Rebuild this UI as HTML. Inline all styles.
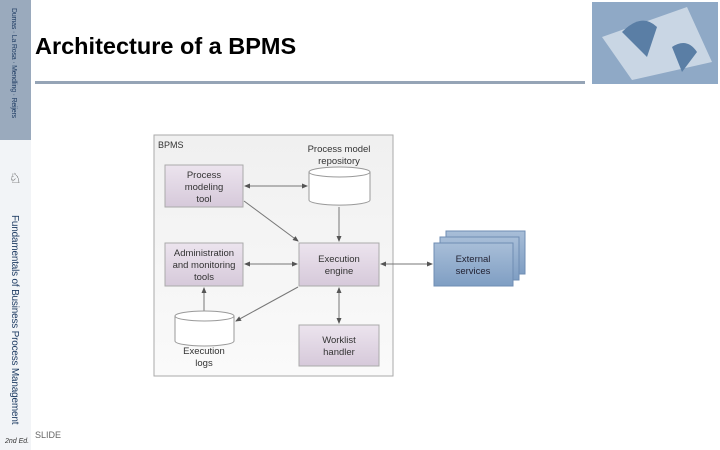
<!DOCTYPE html>
<html><head><meta charset="utf-8"><style>
body{margin:0;width:720px;height:450px;overflow:hidden;background:#fff;font-family:"Liberation Sans",sans-serif;position:relative}
.side{position:absolute;left:0;top:0;width:31px;height:450px;background:#f2f4f7}
.sidetop{position:absolute;left:0;top:0;width:31px;height:140px;background:#9aaabd}
.vt{position:absolute;writing-mode:vertical-rl;color:#1f3c63;white-space:nowrap}
h1{position:absolute;left:35px;top:33px;margin:0;font-size:23.5px;font-weight:bold;color:#000}
.rule{position:absolute;left:35px;top:81px;width:550px;height:3px;background:#95a4b6}
.img{position:absolute;left:592px;top:2px;width:126px;height:82px;background:#8fa9c6}
.slide{position:absolute;left:35px;top:430px;font-size:9px;color:#666}
</style></head><body>
<div class="side"></div><div class="sidetop"></div>
<div class="vt" style="left:10px;top:8px;font-size:7px;letter-spacing:-0.2px">Dumas · La Rosa · Mendling · Reijers</div>
<div style="position:absolute;left:9px;top:170px;font-size:14px;color:#333">♘</div>
<div class="vt" style="left:9px;top:215px;font-size:10px;letter-spacing:-0.2px">Fundamentals of Business Process Management</div>
<div style="position:absolute;left:5px;top:438px;font-size:7px;color:#333;font-style:italic">2nd Ed.</div>
<h1>Architecture of a BPMS</h1>
<div class="rule"></div>
<div class="img"><svg width="126" height="82"><rect width="126" height="82" fill="#8fa9c6"/><polygon points="10,35 95,5 120,60 40,78" fill="#c9d6e4"/><path d="M30,30 Q50,10 65,25 L55,55Z" fill="#5a7ea5"/><path d="M80,45 Q95,35 105,50 L90,70Z" fill="#5a7ea5"/></svg></div>
<div class="slide">SLIDE</div>
<svg style="position:absolute;left:0;top:0" width="720" height="450" font-family="Liberation Sans, sans-serif" font-size="9.5" fill="#333">
<defs>
<linearGradient id="bg" x1="0" y1="0" x2="0" y2="1"><stop offset="0" stop-color="#f0f0f0"/><stop offset="1" stop-color="#fafafa"/></linearGradient>
<linearGradient id="pg" x1="0" y1="0" x2="0" y2="1"><stop offset="0" stop-color="#ece4ee"/><stop offset="1" stop-color="#d6c9da"/></linearGradient>
<linearGradient id="bl" x1="0" y1="0" x2="0" y2="1"><stop offset="0" stop-color="#a8bed8"/><stop offset="1" stop-color="#7f9ec3"/></linearGradient>
<marker id="a" markerWidth="6" markerHeight="6" refX="5" refY="3" orient="auto-start-reverse"><path d="M0,0.5 L6,3 L0,5.5Z" fill="#555"/></marker>
</defs>
<rect x="154" y="135" width="239" height="241" fill="url(#bg)" stroke="#aaa"/>
<text x="158" y="148" font-size="9">BPMS</text>
<g stroke="#777" stroke-width="1" fill="none">
<line x1="245" y1="186" x2="307" y2="186" marker-start="url(#a)" marker-end="url(#a)"/>
<line x1="245" y1="264" x2="297" y2="264" marker-start="url(#a)" marker-end="url(#a)"/>
<line x1="339" y1="207" x2="339" y2="241" marker-end="url(#a)"/>
<line x1="244" y1="201" x2="298" y2="241" marker-end="url(#a)"/>
<line x1="298" y1="287" x2="236" y2="321" marker-end="url(#a)"/>
<line x1="339" y1="288" x2="339" y2="323" marker-start="url(#a)" marker-end="url(#a)"/>
<line x1="381" y1="264" x2="432" y2="264" marker-start="url(#a)" marker-end="url(#a)"/>
<line x1="204" y1="311" x2="204" y2="288" marker-end="url(#a)"/>
</g>
<g stroke="#aaa" fill="url(#pg)">
<rect x="165" y="165" width="78" height="42"/>
<rect x="165" y="243" width="78" height="43"/>
<rect x="299" y="243" width="80" height="43"/>
<rect x="299" y="325" width="80" height="41"/>
</g>
<g fill="#fff" stroke="#999">
<path d="M309,172 v28 a30,5 0 0 0 61,0 v-28"/><ellipse cx="339.5" cy="172" rx="30.5" ry="5"/>
<path d="M175,316 v25 a29.5,5 0 0 0 59,0 v-25"/><ellipse cx="204.5" cy="316" rx="29.5" ry="5"/>
</g>
<g stroke="#6f8db3" fill="url(#bl)">
<rect x="446" y="231" width="79" height="43"/>
<rect x="440" y="237" width="79" height="43"/>
<rect x="434" y="243" width="79" height="43"/>
</g>
<g text-anchor="middle">
<text x="204" y="178">Process</text><text x="204" y="190">modeling</text><text x="204" y="202">tool</text>
<text x="204" y="256">Administration</text><text x="204" y="268">and monitoring</text><text x="204" y="280">tools</text>
<text x="339" y="262">Execution</text><text x="339" y="274">engine</text>
<text x="339" y="343">Worklist</text><text x="339" y="355">handler</text>
<text x="339" y="152">Process model</text><text x="339" y="164">repository</text>
<text x="204" y="354">Execution</text><text x="204" y="366">logs</text>
<text x="473" y="262" fill="#223">External</text><text x="473" y="274" fill="#223">services</text>
</g>
</svg>
</body></html>
